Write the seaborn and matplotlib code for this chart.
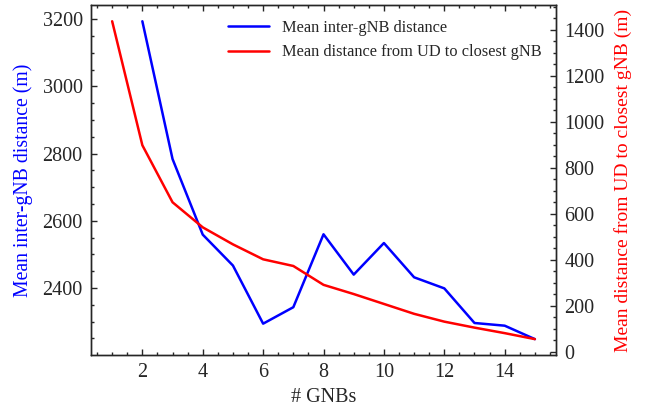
import numpy as np
import pandas as pd
import matplotlib
matplotlib.use("Agg")
import matplotlib.pyplot as plt
import seaborn as sns
from matplotlib.ticker import MultipleLocator

# data
n_gnb_inter = [2, 3, 4, 5, 6, 7, 8, 9, 10, 11, 12, 13, 14, 15]
inter_gnb_dist = [3194, 2784, 2559, 2467, 2294, 2343, 2560, 2440, 2534, 2432,
                  2399, 2296, 2288, 2248]

n_gnb_ud = [1, 2, 3, 4, 5, 6, 7, 8, 9, 10, 11, 12, 13, 14, 15]
ud_closest_dist = [1436, 897, 649, 540, 466, 401, 372, 290, 250, 207, 164,
                   130, 104, 80, 54]

sns.set_style("ticks")
plt.rcParams['font.family'] = ['Liberation Serif', 'DejaVu Serif']
plt.rcParams['mathtext.fontset'] = 'stix'

fig, ax = plt.subplots(figsize=(6.52, 4.13), dpi=100)
fig.subplots_adjust(left=0.1396, right=0.8528, bottom=0.1404, top=0.987)
ax2 = ax.twinx()

sns.lineplot(x=n_gnb_inter, y=inter_gnb_dist, ax=ax, color='blue',
             linewidth=1.8, label='Mean inter-gNB distance', legend=False)
sns.lineplot(x=n_gnb_ud, y=ud_closest_dist, ax=ax2, color='red',
             linewidth=1.8, label='Mean distance from UD to closest gNB',
             legend=False)

fs = 14.5
ax.set_xlabel('# GNBs', fontsize=fs, labelpad=4)
ax.set_ylabel('Mean inter-gNB distance (m)', color='blue', fontsize=14.2,
              labelpad=7)
ax2.set_ylabel('Mean distance from UD to closest gNB (m)', color='red',
               fontsize=14, labelpad=7)

ax.xaxis.set_major_locator(MultipleLocator(2))
ax.xaxis.set_minor_locator(MultipleLocator(0.5))
ax.yaxis.set_major_locator(MultipleLocator(200))
ax.yaxis.set_minor_locator(MultipleLocator(50))
ax2.yaxis.set_major_locator(MultipleLocator(200))
ax2.yaxis.set_minor_locator(MultipleLocator(50))

for a in (ax, ax2):
    a.tick_params(which='both', direction='in', labelsize=fs, width=1, pad=6)
    a.tick_params(which='major', length=4)
    a.tick_params(which='minor', length=2)
    for s in a.spines.values():
        s.set_linewidth(1)
ax.tick_params(axis='x', which='both', top=True)
ax.tick_params(axis='y', which='both', right=False)

h1, l1 = ax.get_legend_handles_labels()
h2, l2 = ax2.get_legend_handles_labels()
ax2.legend(h1 + h2, l1 + l2, loc='upper right', frameon=False, fontsize=11.8,
           handlelength=2.5)

fig.savefig('out.png', dpi=100)
